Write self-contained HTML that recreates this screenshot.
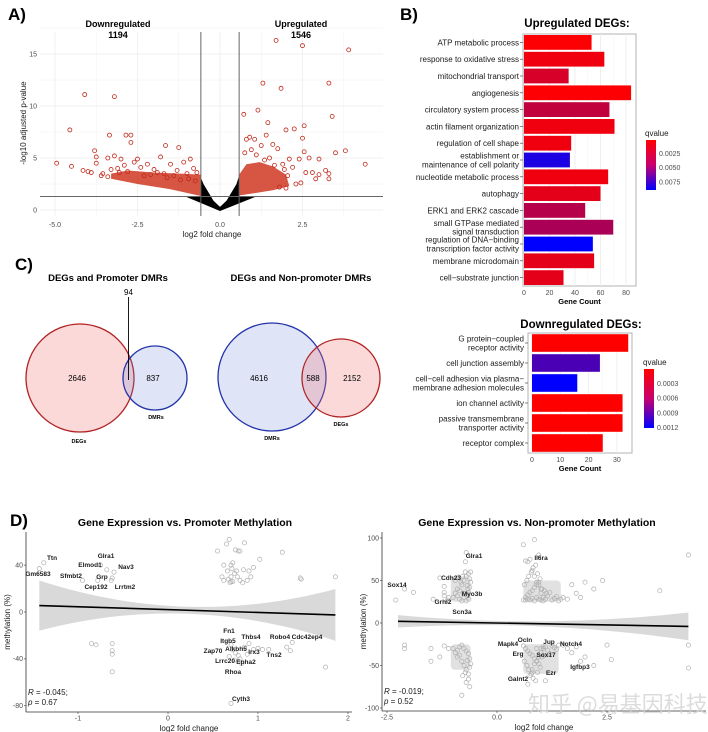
<!DOCTYPE html>
<html><head><meta charset="utf-8">
<style>
html,body{margin:0;padding:0;background:#fff;}
svg{display:block;font-family:"Liberation Sans","Noto Sans CJK SC",sans-serif;}
.tk{font-size:7px;fill:#4d4d4d;}
.lab{font-size:8px;fill:#1a1a1a;}
.gn{font-size:6.5px;font-weight:bold;fill:#1a1a1a;}
.pl{font-size:17px;font-weight:bold;fill:#000;}
</style></head>
<body>
<svg id="fig" width="708" height="732" viewBox="0 0 708 732">
<text class="pl" x="8" y="20">A)</text>
<text class="pl" x="400" y="20">B)</text>
<text class="pl" x="15" y="270">C)</text>
<text class="pl" x="10" y="526">D)</text>
</svg>
<script>
const NS='http://www.w3.org/2000/svg';
const svg=document.getElementById('fig');
function el(tag,a,p){const e=document.createElementNS(NS,tag);for(const k in a)e.setAttribute(k,a[k]);(p||svg).appendChild(e);return e;}
function tx(s,a,p){const e=el('text',a,p);e.textContent=s;return e;}

/* ---------- Panel A data ---------- */
const downX=[-4.95,-4.55,-4.5,-4.1,-3.2,-3.35,-2.85,-2.7,-2.7,-3.8,-3.75,-3.75,-3.4,-3.2,-1.65,-1.25,-1.8,-0.9,-4.15,-4.0,-3.9,-3.6,-3.4,-2.5,-2.2,-1.5,-1.1,-0.8,-3.0,-2.9,-2.6,-3.1,-2.4,-2.0,-1.9,-1.7,-1.4,-1.3,-1.0,-0.7,-3.3,-2.8,-2.3,-2.1,-1.6,-1.2,-0.95,-0.75,-3.55,-3.05];
const downY=[4.5,7.7,4.2,11.1,10.9,7.2,7.2,7.2,6.5,5.7,5.1,4.5,5.0,5.2,6.2,6.0,5.1,4.9,3.8,3.7,3.6,3.3,3.2,4.9,4.4,4.4,4.6,4.0,4.9,4.3,4.6,4.0,4.1,3.9,3.6,3.5,3.3,3.8,3.5,3.6,3.9,3.7,3.3,3.4,3.1,2.9,3.0,2.8,3.5,3.6];
const upX=[1.7,2.5,3.9,1.3,3.3,1.85,0.72,3.4,1.15,1.45,2.0,2.25,2.55,2.5,2.55,3.5,3.8,4.4,3.0,2.7,2.4,2.2,3.3,3.3,1.4,1.05,0.9,1.6,1.75,2.1,2.8,3.2,3.0,2.6,2.3,1.9,2.0,1.5,1.25,0.8,0.95,1.1,1.35,1.65,1.95,2.45,2.9,2.05,1.8,0.75];
const upY=[16.3,15.8,15.4,12.2,12.2,11.7,9.2,9.0,9.6,8.4,7.7,7.8,8.1,6.9,5.6,5.5,5.7,4.4,4.9,5.0,4.9,4.1,3.5,3.0,7.2,6.8,7.0,6.3,5.9,4.9,3.6,3.8,3.4,3.6,2.5,4.4,2.1,5.0,6.2,6.8,5.8,5.3,4.8,4.3,3.9,2.6,3.0,3.3,2.2,5.5];
const cloudDownX=[-3.3,-2.5,-1.5,-0.58,-0.58,-1.2,-2.0,-2.8,-3.3];
const cloudDownY=[3.0,2.5,2.0,1.35,3.4,3.5,3.6,3.8,3.5];
const cloudUpX=[0.58,1.0,1.6,2.1,2.0,1.6,1.2,0.8,0.58];
const cloudUpY=[1.4,1.6,1.9,2.3,3.4,4.2,4.6,4.4,3.4];
const nsX=[0,-1.05,-0.58,-0.58,-0.5,-0.2,0,0.2,0.5,0.58,0.58,1.1];
const nsY=[-0.1,1.3,1.3,3.1,2.5,0.9,0.3,0.9,2.5,3.3,1.3,1.3];
const aXTicks=[-5,-2.5,0,2.5];
const aXTickLabels=['-5.0','-2.5','0.0','2.5'];
const aYTicks=[0,5,10,15];

const ax=v=>220+v*33, ay=v=>210-v*10.4;
(function(){
  const g=el('g',{});
  
  
  for(let v=-5;v<=4;v+=1.25){const l=el('line',{x1:ax(v),x2:ax(v),y1:32,y2:216,stroke:'#ececec','stroke-width':v%2.5===0?0.8:0.4},g);
    }
  for(let v=0;v<=17.5;v+=2.5){const l=el('line',{x1:40,x2:383,y1:ay(v),y2:ay(v),stroke:'#ececec','stroke-width':v%5===0?0.8:0.4},g);
    }
  const pts=(X,Y)=>X.map((x,i)=>ax(x)+','+ay(Y[i])).join(' ');
  const p1=el('polygon',{points:pts(cloudDownX,cloudDownY),fill:'#cc2a14',opacity:0.8},g);
  
  const p2=el('polygon',{points:pts(cloudUpX,cloudUpY),fill:'#cc2a14',opacity:0.8},g);
  
  const p3=el('polygon',{points:pts(nsX,nsY),fill:'#000'},g);
  
  downX.forEach((x,i)=>{const c=el('circle',{cx:ax(x),cy:ay(downY[i]),r:2,fill:'none',stroke:'#c0281a','stroke-width':0.8},g);
    });
  upX.forEach((x,i)=>{const c=el('circle',{cx:ax(x),cy:ay(upY[i]),r:2,fill:'none',stroke:'#c0281a','stroke-width':0.8},g);
    });
  [-0.58,0.58].forEach(v=>{const l=el('line',{x1:ax(v),x2:ax(v),y1:32,y2:216,stroke:'#666','stroke-width':1},g);
    });
  const h=el('line',{x1:40,x2:383,y1:ay(1.3),y2:ay(1.3),stroke:'#666','stroke-width':1},g);
  
  aXTicks.forEach((v,i)=>{const t=tx(aXTickLabels[i],{class:'tk','text-anchor':'middle',x:ax(v),y:227},g);
    });
  aYTicks.forEach(v=>{const t=tx(String(v),{class:'tk','text-anchor':'end',x:37,y:ay(v)+2.5},g);
    });
  let t=tx('log2 fold change',{class:'lab','text-anchor':'middle',x:212,y:237},g);
  
  t=tx('-log10 adjusted p-value',{class:'lab','text-anchor':'middle',transform:'translate(26,123) rotate(-90)'},g);
  
  t=tx('Downregulated',{'font-size':'9px','font-weight':'bold','text-anchor':'middle',x:118,y:27},g);
  
  t=tx('1194',{'font-size':'9px','font-weight':'bold','text-anchor':'middle',x:118,y:38},g);
  
  t=tx('Upregulated',{'font-size':'9px','font-weight':'bold','text-anchor':'middle',x:301,y:27},g);
  
  t=tx('1546',{'font-size':'9px','font-weight':'bold','text-anchor':'middle',x:301,y:38},g);
  
})();

/* ---------- Panel B data ---------- */
const upCats=[['ATP metabolic process'],['response to oxidative stress'],['mitochondrial transport'],['angiogenesis'],['circulatory system process'],['actin filament organization'],['regulation of cell shape'],['establishment or','maintenance of cell polarity'],['nucleotide metabolic process'],['autophagy'],['ERK1 and ERK2 cascade'],['small GTPase mediated','signal transduction'],['regulation of DNA\u2212binding','transcription factor activity'],['membrane microdomain'],['cell\u2212substrate junction']];
const upCounts=[53,63,35,84,67,71,37,36,66,60,48,70,54,55,31];
const upQ=[0.0002,0.0006,0.0015,0.0002,0.0022,0.0006,0.0006,0.0078,0.0006,0.001,0.0026,0.003,0.0088,0.001,0.001];
const upTicks=[0,20,40,60,80];
const upLegTicks=[0.0025,0.0050,0.0075];
const downCats=[['G protein\u2212coupled','receptor activity'],['cell junction assembly'],['cell\u2212cell adhesion via plasma\u2212','membrane adhesion molecules'],['ion channel activity'],['passive transmembrane','transporter activity'],['receptor complex']];
const downCounts=[34,24,16,32,32,25];
const downQ=[0.00005,0.0009,0.00125,0.00005,0.00005,0.00005];
const downTicks=[0,10,20,30];
const downLegTicks=[0.0003,0.0006,0.0009,0.0012];

function qcol(q,lo,hi){const f=Math.max(0,Math.min(1,(q-lo)/(hi-lo)));return 'rgb('+Math.round(255*(1-f))+',0,'+Math.round(255*f)+')';}
function barChart(o){
  const g=el('g',{});
  
  
  const {x0,x1,y0,y1,zero,ppu}=o; const n=o.cats.length; const band=(y1-y0)/n;
  el('rect',{x:x0,y:y0,width:x1-x0,height:y1-y0,fill:'#fff',stroke:'#b3b3b3','stroke-width':1},g);
  for(let i=0;i<o.ticks.length;i++){const v=o.ticks[i];
    const l=el('line',{x1:zero+v*ppu,x2:zero+v*ppu,y1:y0,y2:y1,stroke:'#ebebeb','stroke-width':0.8},g);
    
    if(i<o.ticks.length-1){const m=v+(o.ticks[1]-o.ticks[0])/2;
      const l2=el('line',{x1:zero+m*ppu,x2:zero+m*ppu,y1:y0,y2:y1,stroke:'#f3f3f3','stroke-width':0.5},g);
      }
    const t=tx(String(v),{class:'tk','text-anchor':'middle',x:zero+v*ppu,y:y1+9,'font-size':'7.5px'},g);
    }
  o.cats.forEach((c,i)=>{
    const cy=y0+band*(i+0.5), bh=band*0.88;
    const r=el('rect',{x:zero,y:cy-bh/2,width:o.vals[i]*ppu,height:bh,fill:qcol(o.q[i],o.qlo,o.qhi)},g);
    
    
    el('line',{x1:x0-3,x2:x0,y1:cy,y2:cy,stroke:'#333','stroke-width':0.6},g);
    const t=el('text',{class:'lab','text-anchor':'end',x:x0-4,y:cy+3-(c.length-1)*4.3,'font-size':o.fs},g);
    
    
    c.forEach((s,j)=>{const ts=el('tspan',{x:x0-4,dy:j?8.6:0},t);ts.textContent=s;});
  });
  let t=tx(o.title,{'font-size':o.tfs,'font-weight':'bold','text-anchor':'middle',x:o.tx,y:o.ty},g);
  
  t=tx('Gene Count',{'font-size':'7.5px','font-weight':'bold','text-anchor':'middle',x:(x0+x1)/2,y:y1+18},g);
  
  const gid='grad'+o.name;
  const d=el('defs',{},g);const lg=el('linearGradient',{id:gid,x1:0,y1:0,x2:0,y2:1},d);
  el('stop',{offset:0,'stop-color':'#ff0000'},lg);el('stop',{offset:0.5,'stop-color':'#c8006e'},lg);el('stop',{offset:1,'stop-color':'#0000ff'},lg);
  const lr=el('rect',{x:o.lx,y:o.ly,width:10,height:o.lh,fill:'url(#'+gid+')'},g);
  
  t=tx('qvalue',{class:'lab','font-size':'7.5px',x:o.lx-1,y:o.ly-4},g);
  
  o.legTicks.forEach(v=>{const yy=o.ly+(v-o.lgLo)/(o.lgHi-o.lgLo)*o.lh;
    const tt=tx(v.toFixed(4),{class:'tk','font-size':'5.5px',x:o.lx+13,y:yy+2},g);
    });
}
barChart({name:'upregulated-degs-chart',cats:upCats,vals:upCounts,q:upQ,qlo:0.0001,qhi:0.0088,ticks:upTicks,
  x0:523,x1:636,y0:34,y1:286,zero:524,ppu:1.275,fs:'7.3px',title:'Upregulated DEGs:',tfs:'11.5px',tx:577,ty:27,
  lx:646,ly:140,lh:50,legTicks:upLegTicks,lgLo:0.0001,lgHi:0.0088});
barChart({name:'downregulated-degs-chart',cats:downCats,vals:downCounts,q:downQ,qlo:0.00005,qhi:0.00125,ticks:downTicks,
  x0:528,x1:632,y0:333,y1:453,zero:532,ppu:2.83,fs:'7.3px',title:'Downregulated DEGs:',tfs:'11.5px',tx:581,ty:328,
  lx:644,ly:369,lh:59,legTicks:downLegTicks,lgLo:0.0,lgHi:0.0012});

/* ---------- Panel C (Venn) ---------- */
const venn1=[2646,94,837];
const venn2=[4616,588,2152];
(function(){
  const g=el('g',{});
  
  
  let t=tx('DEGs and Promoter DMRs',{'font-size':'9.5px','font-weight':'bold','text-anchor':'middle',x:108,y:281},g);
  
  t=tx('DEGs and Non-promoter DMRs',{'font-size':'9.5px','font-weight':'bold','text-anchor':'middle',x:301,y:281},g);
  
  let c=el('circle',{cx:80,cy:378,r:54,fill:'rgba(240,120,120,0.28)',stroke:'#b22222','stroke-width':1.3},g);
  
  c=el('circle',{cx:155,cy:378,r:32,fill:'rgba(110,130,220,0.22)',stroke:'#2233aa','stroke-width':1.3},g);
  
  el('line',{x1:128.5,x2:128.5,y1:297,y2:380,stroke:'#000','stroke-width':0.9},g);
  [[venn1[0],77],[venn1[2],153]].forEach(([v,x])=>{const tt=tx(String(v),{'font-size':'8px','text-anchor':'middle',x:x,y:381},g);
    });
  t=tx(String(venn1[1]),{'font-size':'8px','text-anchor':'middle',x:128.5,y:295},g);
  
  t=tx('DEGs',{'font-size':'5.5px','font-weight':'bold','text-anchor':'middle',x:79,y:443},g);
  t=tx('DMRs',{'font-size':'5.5px','font-weight':'bold','text-anchor':'middle',x:156,y:419},g);
  c=el('circle',{cx:272,cy:377,r:54,fill:'rgba(110,130,220,0.22)',stroke:'#2233aa','stroke-width':1.3},g);
  
  c=el('circle',{cx:341,cy:378,r:39,fill:'rgba(240,120,120,0.28)',stroke:'#b22222','stroke-width':1.3},g);
  
  [[venn2[0],259],[venn2[1],313],[venn2[2],352]].forEach(([v,x])=>{const tt=tx(String(v),{'font-size':'8px','text-anchor':'middle',x:x,y:381},g);
    });
  t=tx('DMRs',{'font-size':'5.5px','font-weight':'bold','text-anchor':'middle',x:272,y:440},g);
  t=tx('DEGs',{'font-size':'5.5px','font-weight':'bold','text-anchor':'middle',x:341,y:426},g);
})();

/* ---------- Panel D data ---------- */
const dLX=[0.55,0.6,0.62,0.65,0.68,0.7,0.72,0.75,0.78,0.8,0.85,0.9,0.95,0.7,0.74,0.66,0.8,0.88,0.62,0.7,0.76,0.83,0.67,0.72,0.92,1.02,1.27,1.47,1.48,1.86,0.69,0.71,0.77,0.84,
 -1.38,-1.43,-0.75,-0.6,-0.68,-0.95,-0.78,-0.63,-0.62,-0.85,-0.8,-0.62,-0.62,-0.62,-0.62,
 0.7,0.72,0.75,0.78,0.8,0.82,0.85,0.9,0.95,1.0,1.05,1.12,0.68,0.74,0.88,1.32,1.36,1.38,1.75,0.7];
const dLY=[52,30,40,58,62,40,42,53,52,52,59,35,38,26,33,35,27,27,27,30,35,25,28,26,30,45,51,29,28,30,25,37,30,36,
 42,37,40,34,36,27,27,27,29,-27,-28,-27,-33,-36,-51,
 -28,-32,-35,-37,-40,-44,-30,-27,-32,-31,-32,-32,-38,-41,-36,-30,-33,-26,-47,-78];
const dLFit=[5.5,-2.5];
const dLFitX=[-1.43,1.86];
const dLXTicks=[-1,0,1,2];
const dLYTicks=[40,0,-40,-80];
const dRX=[-1.0,-0.95,-0.9,-0.85,-0.8,-0.75,-0.7,-0.65,-0.62,-0.6,-0.9,-0.85,-0.8,-0.75,-0.7,-0.65,-0.62,-0.78,-0.72,-0.68,-1.1,-1.12,-0.95,-0.88,-0.82,-0.66,-0.64,-0.7,-0.76,-0.6,
 -0.7,-0.72,-2.1,-1.9,-2.3,-1.3,-1.2,-1.2,-1.2,-1.45,
 0.6,0.65,0.7,0.75,0.8,0.85,0.9,0.95,1.0,1.05,1.1,1.15,1.2,1.25,1.3,1.35,1.4,1.45,1.5,0.62,0.68,0.72,0.78,0.82,0.88,0.92,0.98,1.02,1.08,1.12,0.7,0.75,0.8,0.85,0.9,0.95,1.0,0.65,0.7,0.75,0.8,0.85,0.9,0.95,1.0,1.05,1.6,1.7,1.8,1.9,2.0,2.2,2.4,3.7,4.35,0.85,0.6,0.95,0.65,
 -1.0,-0.95,-0.9,-0.85,-0.8,-0.75,-0.7,-0.65,-0.62,-0.6,-0.9,-0.85,-0.8,-0.75,-0.7,-0.65,-0.62,-0.78,-0.72,-0.68,-1.1,-1.2,-1.5,-1.5,-1.3,-0.7,-0.65,-0.8,-0.62,-2.1,-2.1,
 0.6,0.65,0.7,0.75,0.8,0.85,0.9,0.95,1.0,1.05,1.1,1.15,1.2,1.25,1.3,1.35,1.4,0.62,0.68,0.72,0.78,0.82,0.88,0.92,0.98,1.02,1.08,0.7,0.75,0.8,0.85,0.9,0.95,1.0,1.05,1.5,1.6,1.7,1.8,1.9,2.0,2.2,2.5,2.6,4.35,4.35,0.9,0.8,1.1];
const dRY=[30,35,40,28,45,50,55,58,52,48,32,38,26,30,33,36,42,55,60,44,30,27,50,54,48,40,28,26,35,60,
 83,72,40,36,27,53,43,36,32,28,
 27,30,33,36,38,42,45,48,35,30,28,32,36,27,29,31,26,28,30,45,50,55,60,65,68,58,52,40,38,35,72,75,62,55,48,45,40,27,28,27,29,26,30,28,27,26,28,45,35,30,48,40,50,38,80,98,92,80,73,
 -30,-35,-40,-28,-45,-50,-55,-60,-52,-48,-32,-38,-26,-30,-33,-36,-42,-62,-58,-44,-30,-27,-30,-45,-40,-70,-66,-85,-75,-26,-30,
 -27,-30,-33,-36,-38,-42,-45,-48,-35,-30,-28,-32,-36,-27,-29,-31,-26,-45,-50,-55,-60,-65,-68,-58,-52,-40,-38,-72,-62,-55,-48,-45,-40,-30,-28,-26,-30,-35,-28,-45,-40,-50,-26,-43,-53,-26,-30,-58,-68,-85];
const dRFit=[2,-4];
const dRFitX=[-2.25,4.35];
const dRXTicks=[-2.5,0,2.5];
const dRXTickLabels=['-2.5','0.0','2.5'];
const dRYTicks=[100,50,0,-50,-100];
/* dense cluster extents: [xmin,xmax,ymin,ymax] */
const dRClusterX0=[-1.05,0.6,-1.05,0.6];
const dRClusterX1=[-0.6,1.45,-0.6,1.4];
const dRClusterY0=[25,25,-55,-60];
const dRClusterY1=[55,50,-25,-25];

function scatter(o){
  const g=el('g',{});
  
  
  const sx=v=>o.x0+v*o.kx, sy=v=>o.y0-v*o.ky;
  const xa=o.fitX[0],xb=o.fitX[1],xm=o.bandMid;
  const f=v=>o.fit[0]+(o.fit[1]-o.fit[0])*(v-xa)/(xb-xa);
  const up=[],dn=[];
  for(let k=0;k<=30;k++){const v=xa+(xb-xa)*k/30;const w=o.bw0+o.bw1*Math.pow((v-xm)/(xb-xa),2);up.push(sx(v)+','+sy(f(v)+w));dn.unshift(sx(v)+','+sy(f(v)-w));}
  const band=el('polygon',{points:up.concat(dn).join(' '),fill:'#d9d9d9'},g);
  
  if(o.cl){o.cl[0].forEach((x,i)=>{const r=el('rect',{x:sx(x),y:sy(o.cl[3][i]),width:sx(o.cl[1][i])-sx(x),height:sy(o.cl[2][i])-sy(o.cl[3][i]),rx:4,fill:'#d4d4d4',opacity:0.7},g);
    });}
  o.X.forEach((x,i)=>{const c=el('circle',{cx:sx(x),cy:sy(o.Y[i]),r:2.1,fill:'none',stroke:'#b0b0b0','stroke-width':0.7},g);
    });
  const ln=el('line',{x1:sx(xa),y1:sy(o.fit[0]),x2:sx(xb),y2:sy(o.fit[1]),stroke:'#000','stroke-width':1.6},g);
  
  el('line',{x1:o.ax,x2:o.ax,y1:o.top,y2:o.bot,stroke:'#333','stroke-width':0.8},g);
  el('line',{x1:o.ax,x2:o.right,y1:o.bot,y2:o.bot,stroke:'#333','stroke-width':0.8},g);
  o.xt.forEach((v,i)=>{el('line',{x1:sx(v),x2:sx(v),y1:o.bot,y2:o.bot+2,stroke:'#333','stroke-width':0.6},g);
    const t=tx(o.xtl?o.xtl[i]:String(v),{class:'tk','text-anchor':'middle',x:sx(v),y:o.bot+8.5},g);
    });
  o.yt.forEach(v=>{el('line',{x1:o.ax-2,x2:o.ax,y1:sy(v),y2:sy(v),stroke:'#333','stroke-width':0.6},g);
    const t=tx(String(v),{class:'tk','text-anchor':'end',x:o.ax-3,y:sy(v)+2.3,'font-size':'6px'},g);
    });
  let t=tx('log2 fold change',{class:'lab','text-anchor':'middle',x:(o.ax+o.right)/2,y:o.bot+19},g);
  
  t=tx('methylation (%)',{class:'lab','text-anchor':'middle',transform:'translate('+(o.ax-16)+','+((o.top+o.bot)/2)+') rotate(-90)'},g);
  
  t=tx(o.title,{'font-size':'10.5px','font-weight':'bold','text-anchor':'middle',x:o.tx,y:526},g);
  
  t=el('text',{class:'lab','font-size':'7.5px',x:o.ax+2,y:o.bot-17},g);t.innerHTML='<tspan font-style="italic">R</tspan> = '+o.r+';';
  
  t=el('text',{class:'lab','font-size':'7.5px',x:o.ax+2,y:o.bot-7},g);t.innerHTML='<tspan font-style="italic">p</tspan> = '+o.p;
  
  o.genes.forEach(([s,x,y])=>{const tt=tx(s,{class:'gn','text-anchor':'middle',x:x,y:y},g);
    });
}
scatter({name:'promoter-methylation-scatter',X:dLX,Y:dLY,fit:dLFit,fitX:dLFitX,x0:168,kx:90,y0:612,ky:1.172,bandMid:0.2,bw0:3,bw1:75,
  ax:26,top:532,bot:712,right:352,xt:dLXTicks,yt:dLYTicks,title:'Gene Expression vs. Promoter Methylation',tx:185,r:'-0.045',p:'0.67',
  genes:[['Ttn',52,560],['Gm6583',38,576],['Glra1',106,558],['Elmod1',90,567],['Nav3',126,569],['Sfmbt2',71,578],['Grp',102,579],['Cep192',96,589],['Lrrtm2',125,589],
   ['Fn1',229,633],['Thbs4',251,639],['Robo4',280,639],['Cdc42ep4',307,639],['Itgb5',228,643],['Alkbh5',236,651],['Zap70',213,653],['Irx3',254,654],['Tns2',274,657],['Lrrc20',225,663],['Epha2',246,664],['Rhoa',233,674],['Cyth3',241,701]]});
scatter({name:'nonpromoter-methylation-scatter',X:dRX,Y:dRY,fit:dRFit,fitX:dRFitX,x0:497,kx:44,y0:623,ky:0.85,bandMid:0.2,bw0:2.5,bw1:35,
  cl:[dRClusterX0,dRClusterX1,dRClusterY0,dRClusterY1],
  ax:382,top:532,bot:711,right:706,xt:dRXTicks,xtl:dRXTickLabels,yt:dRYTicks,title:'Gene Expression vs. Non-promoter Methylation',tx:537,r:'-0.019',p:'0.52',
  genes:[['Glra1',474,558],['Il6ra',541,560],['Sox14',397,587],['Cdh23',451,580],['Myo3b',472,596],['Grhl2',443,604],['Scn3a',462,614],['Mapk4',508,646],['Ocln',525,642],['Jup',549,644],['Notch4',571,646],['Erg',518,656],['Sox17',546,657],['Igfbp3',580,669],['Ezr',551,675],['Galnt2',518,681]]});

const wm=tx('知乎 @易基因科技',{x:528,y:712,'font-size':'22px',fill:'#d0d0d0','fill-opacity':0.75,'font-family':'"Noto Sans CJK SC",sans-serif'});


</script>
</body></html>
